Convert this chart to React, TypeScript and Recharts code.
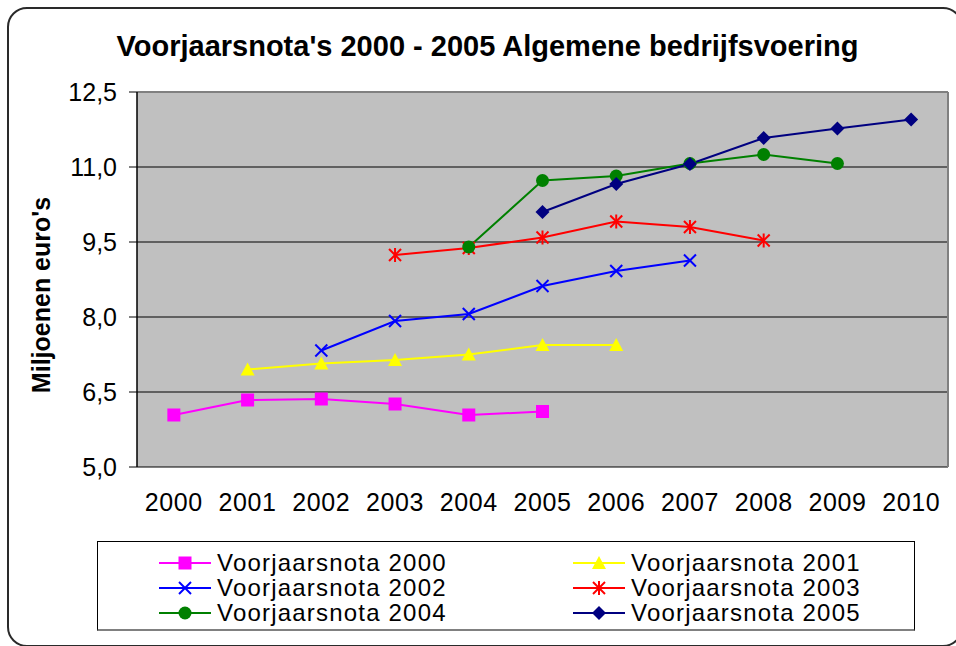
import React from 'react';
import {
  LineChart,
  Line,
  XAxis,
  YAxis,
  CartesianGrid,
  ReferenceLine,
  Legend,
} from 'recharts';

// Chart data (miljoenen euro's)
const YEARS = ['2000', '2001', '2002', '2003', '2004', '2005', '2006', '2007', '2008', '2009', '2010'];

const VN2000 = [6.04, 6.34, 6.36, 6.26, 6.04, 6.11, null, null, null, null, null];
const VN2001 = [null, 6.95, 7.07, 7.14, 7.25, 7.44, 7.44, null, null, null, null];
const VN2002 = [null, null, 7.33, 7.92, 8.06, 8.62, 8.92, 9.13, null, null, null];
const VN2003 = [null, null, null, 9.24, 9.38, 9.59, 9.91, 9.8, 9.53, null, null];
const VN2004 = [null, null, null, null, 9.4, 10.73, 10.82, 11.07, 11.25, 11.07, null];
const VN2005 = [null, null, null, null, null, 10.1, 10.66, 11.06, 11.58, 11.77, 11.95];

const Y_TICKS = [5, 6.5, 8, 9.5, 11, 12.5];

const TITLE = "Voorjaarsnota's 2000 - 2005 Algemene bedrijfsvoering";
const Y_LABEL = "Miljoenen euro's";

const FONT = "'Liberation Sans', Arial, sans-serif";

type Shape = 'square' | 'triangle' | 'cross' | 'star' | 'circle' | 'diamond';

const SERIES: { key: string; name: string; values: (number | null)[]; color: string; shape: Shape }[] = [
  { key: 'vn2000', name: 'Voorjaarsnota 2000', values: VN2000, color: '#FF00FF', shape: 'square' },
  { key: 'vn2001', name: 'Voorjaarsnota 2001', values: VN2001, color: '#FFFF00', shape: 'triangle' },
  { key: 'vn2002', name: 'Voorjaarsnota 2002', values: VN2002, color: '#0000FF', shape: 'cross' },
  { key: 'vn2003', name: 'Voorjaarsnota 2003', values: VN2003, color: '#FF0000', shape: 'star' },
  { key: 'vn2004', name: 'Voorjaarsnota 2004', values: VN2004, color: '#008000', shape: 'circle' },
  { key: 'vn2005', name: 'Voorjaarsnota 2005', values: VN2005, color: '#000080', shape: 'diamond' },
];

// one row per year, x sits in the middle of its category band
const chartData = YEARS.map((year, i) => {
  const row: Record<string, number | string | null> = { x: i + 0.5, year };
  SERIES.forEach((s) => {
    row[s.key] = s.values[i];
  });
  return row;
});

const BAND_TICKS = YEARS.map((_, i) => i).concat([YEARS.length]);
const LABEL_TICKS = YEARS.map((_, i) => i + 0.5);

function MarkerShape({ shape, color, cx, cy }: { shape: Shape; color: string; cx: number; cy: number }) {
  switch (shape) {
    case 'square':
      return <rect x={cx - 6.5} y={cy - 6.5} width={13} height={13} fill={color} />;
    case 'triangle':
      return <polygon points={`${cx},${cy - 7} ${cx + 7},${cy + 6} ${cx - 7},${cy + 6}`} fill={color} />;
    case 'cross':
      return (
        <g stroke={color} strokeWidth={2}>
          <line x1={cx - 6} y1={cy - 6} x2={cx + 6} y2={cy + 6} />
          <line x1={cx - 6} y1={cy + 6} x2={cx + 6} y2={cy - 6} />
        </g>
      );
    case 'star':
      return (
        <g stroke={color} strokeWidth={2}>
          <line x1={cx - 6} y1={cy - 6} x2={cx + 6} y2={cy + 6} />
          <line x1={cx - 6} y1={cy + 6} x2={cx + 6} y2={cy - 6} />
          <line x1={cx} y1={cy - 7} x2={cx} y2={cy + 7} />
        </g>
      );
    case 'circle':
      return <circle cx={cx} cy={cy} r={6.5} fill={color} />;
    case 'diamond':
    default:
      return <polygon points={`${cx},${cy - 7} ${cx + 7},${cy} ${cx},${cy + 7} ${cx - 7},${cy}`} fill={color} />;
  }
}

const makeDot = (shape: Shape, color: string) =>
  // eslint-disable-next-line @typescript-eslint/no-explicit-any
  (props: any) => {
    const { cx, cy, index, value } = props;
    if (cx == null || cy == null || value == null) return <g key={`d-${index}`} />;
    return (
      <g key={`d-${index}`}>
        <MarkerShape shape={shape} color={color} cx={cx} cy={cy} />
      </g>
    );
  };

/**
 * Excel style legend: boxed, two columns
 */
function ChartLegend() {
  return (
    <div
      style={{
        width: 818,
        height: 90,
        boxSizing: 'border-box',
        border: '1px solid #000',
        borderBottom: '2px solid #808080',
        background: '#fff',
        display: 'grid',
        gridTemplateColumns: '414px 404px',
        gridAutoRows: '25px',
        paddingTop: 8,
        fontFamily: FONT,
      }}
    >
      {SERIES.map((s) => (
        <div key={s.key} style={{ display: 'flex', alignItems: 'center', paddingLeft: 61 }}>
          <svg width={52} height={20} style={{ flex: 'none' }}>
            <line x1={0} y1={10} x2={52} y2={10} stroke={s.color} strokeWidth={2} />
            <MarkerShape shape={s.shape} color={s.color} cx={26} cy={10} />
          </svg>
          <span style={{ marginLeft: 6, fontSize: 24, letterSpacing: 1.2, color: '#000', whiteSpace: 'nowrap' }}>
            {s.name}
          </span>
        </div>
      ))}
    </div>
  );
}

export default function App() {
  return (
    <div
      style={{
        position: 'absolute',
        left: 0,
        top: 0,
        width: 956,
        height: 646,
        overflow: 'hidden',
        background: '#fff',
        fontFamily: FONT,
      }}
    >
      {/* rounded outer frame */}
      <div
        style={{
          position: 'absolute',
          left: 7,
          top: 7,
          width: 956,
          height: 640,
          boxSizing: 'border-box',
          border: '2px solid #2a2a2a',
          borderRadius: 20,
        }}
      />
      <div
        style={{
          position: 'absolute',
          left: 0,
          width: 975,
          top: 32,
          textAlign: 'center',
          fontSize: 29,
          lineHeight: '29px',
          fontWeight: 'bold',
          color: '#000',
          whiteSpace: 'nowrap',
        }}
      >
        {TITLE}
      </div>
      <div
        style={{
          position: 'absolute',
          left: 41,
          top: 295,
          transform: 'translate(-50%, -50%) rotate(-90deg)',
          fontSize: 25,
          fontWeight: 'bold',
          color: '#000',
          whiteSpace: 'nowrap',
        }}
      >
        {Y_LABEL}
      </div>
      <div style={{ position: 'absolute', left: 0, top: 0 }}>
        <LineChart
          width={956}
          height={646}
          data={chartData}
          margin={{ top: 92, right: 8, bottom: 119, left: 0 }}
        >
          <CartesianGrid
            vertical={false}
            stroke="#000"
            strokeWidth={1}
            fill="#C0C0C0"
            fillOpacity={1}
          />
          <XAxis
            xAxisId="band"
            dataKey="x"
            type="number"
            domain={[0, YEARS.length]}
            ticks={BAND_TICKS}
            tickFormatter={() => ''}
            tickSize={8}
            height={0}
            axisLine={{ stroke: '#000', strokeWidth: 1.5 }}
            tickLine={{ stroke: '#000', strokeWidth: 1 }}
          />
          <XAxis
            xAxisId="year"
            dataKey="x"
            type="number"
            domain={[0, YEARS.length]}
            ticks={LABEL_TICKS}
            tickFormatter={(v: number) => YEARS[Math.round(v - 0.5)]}
            tickSize={0}
            tickMargin={26}
            height={60}
            axisLine={false}
            tickLine={false}
            tick={{ fontSize: 25, fill: '#000', fontFamily: FONT, letterSpacing: 0.6 }}
            interval={0}
          />
          <YAxis
            width={137}
            domain={[5, 12.5]}
            ticks={Y_TICKS}
            interval={0}
            tickFormatter={(v: number) => v.toFixed(1).replace('.', ',')}
            tickSize={8}
            tickMargin={12}
            axisLine={{ stroke: '#000', strokeWidth: 1.5 }}
            tickLine={{ stroke: '#000', strokeWidth: 1 }}
            tick={{ fontSize: 25, fill: '#000', fontFamily: FONT }}
          />
          {/* grey plot-area border on top and right */}
          <ReferenceLine y={12.5} xAxisId="band" stroke="#808080" strokeWidth={2} />
          <ReferenceLine x={YEARS.length} xAxisId="band" stroke="#808080" strokeWidth={2} />
          {SERIES.map((s) => (
            <Line
              key={s.key}
              xAxisId="year"
              dataKey={s.key}
              name={s.name}
              type="linear"
              stroke={s.color}
              strokeWidth={2}
              dot={makeDot(s.shape, s.color)}
              activeDot={false}
              isAnimationActive={false}
            />
          ))}
          <Legend
            layout="horizontal"
            verticalAlign="middle"
            align="center"
            content={() => <ChartLegend />}
            wrapperStyle={{ left: 97, top: 541, width: 818, height: 90 }}
          />
        </LineChart>
      </div>
    </div>
  );
}
